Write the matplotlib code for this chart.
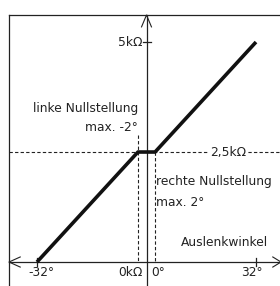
import matplotlib
matplotlib.use("Agg")
import matplotlib.pyplot as plt

# Kennlinie: Auslenkwinkel (Grad) -> Widerstand (kOhm)
angle = [-32, -2.5, 2.5, 32]
resistance = [0, 2.5, 2.5, 5]

x_ticks = [-32, 32]
x_tick_labels = ["-32°", "32°"]
mid_value = 2.5
top_value = 5

fig = plt.figure(figsize=(2.8, 2.86), dpi=100)
ax = fig.add_axes([0, 0, 1, 1])
ax.set_xlim(-42.81, 39.01)
ax.set_ylim(-0.545, 5.955)
ax.axis("off")

ink = "#222222"
fs = 8.8

# frame
left, top = -40.18, 5.614
ax.plot([left, 40], [top, top], color=ink, lw=0.9)
ax.plot([left, left], [top, -1], color=ink, lw=0.9)

# axes with open arrows
ax.plot([left, 40], [0, 0], color=ink, lw=0.9)
ax.plot([0, 0], [top, -1], color=ink, lw=0.9)
ax.plot([-36.9, left, -36.9], [0.115, 0, -0.115], color=ink, lw=0.8)
ax.plot([36.9, 39.3, 36.9], [0.115, 0, -0.115], color=ink, lw=0.8)
ax.plot([-1.45, 0, 1.45], [top - 0.27, top, top - 0.27], color=ink, lw=0.8)

# ticks
for t in x_ticks:
    ax.plot([t, t], [-0.09, 0.09], color=ink, lw=0.9)
ax.plot([-0.9, 1.3], [top_value, top_value], color=ink, lw=0.9)

# dashed guides
ax.plot([left, 40], [mid_value, mid_value], color=ink, lw=0.8, ls=(0, (3, 2)))
ax.plot([angle[1], angle[1]], [2.89, 0], color=ink, lw=0.8, ls=(0, (3, 2)))
ax.plot([angle[2], angle[2]], [mid_value, 0], color=ink, lw=0.8, ls=(0, (3, 2)))

# characteristic
ax.plot(angle, resistance, color="#111111", lw=2.6, solid_capstyle="butt", zorder=5)

# labels
ax.text(-1.3, top_value, "5kΩ", ha="right", va="center", fontsize=fs, color=ink)
ax.text(23.8, mid_value, "2,5kΩ", ha="center", va="center", fontsize=fs, color=ink,
        bbox=dict(facecolor="white", edgecolor="none", pad=1.5))
ax.text(-2.5, 3.5, "linke Nullstellung", ha="right", va="center", fontsize=fs, color=ink)
ax.text(-2.6, 3.05, "max. -2°", ha="right", va="center", fontsize=fs, color=ink)
ax.text(2.8, 1.82, "rechte Nullstellung", ha="left", va="center", fontsize=fs, color=ink)
ax.text(2.8, 1.36, "max. 2°", ha="left", va="center", fontsize=fs, color=ink)
ax.text(35.5, 0.45, "Auslenkwinkel", ha="right", va="center", fontsize=fs, color=ink)
for t, lab in zip(x_ticks, x_tick_labels):
    ax.text(t + 1.2 if t < 0 else t - 1.2, -0.23, lab, ha="center", va="center",
            fontsize=fs, color=ink)
ax.text(-1.0, -0.23, "0kΩ", ha="right", va="center", fontsize=fs, color=ink)
ax.text(1.3, -0.23, "0°", ha="left", va="center", fontsize=fs, color=ink)

fig.savefig("out.png", dpi=100)
